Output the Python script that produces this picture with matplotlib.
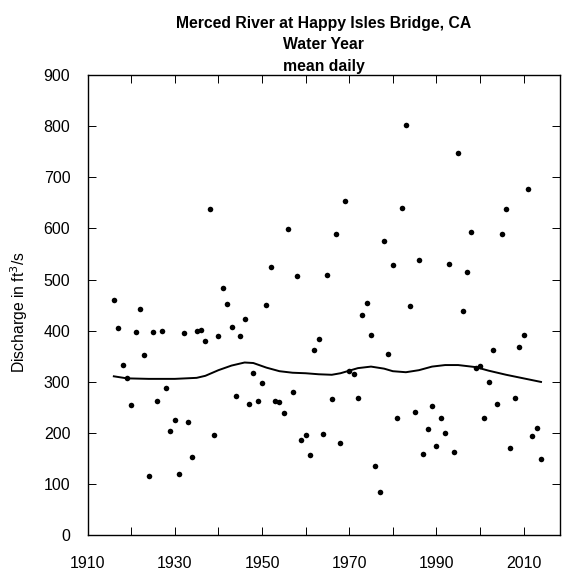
import numpy as np
import matplotlib
matplotlib.use("Agg")
import matplotlib.pyplot as plt

plt.rcParams['font.family'] = ['Liberation Sans', 'DejaVu Sans']

# water years and mean daily discharge (ft3/s)
years = list(range(1916, 2015))
discharge = [
    461, 405, 334, 308, 254, 397, 442, 352, 117, 398,
    263, 399, 289, 204, 225, 120, 395, 222, 154, 400,
    401, 380, 639, 197, 390, 484, 453, 408, 272, 390,
    424, 257, 317, 263, 298, 451, 525, 263, 261, 240,
    599, 280, 507, 186, 197, 157, 362, 384, 199, 510,
    267, 590, 180, 653, 321, 316, 269, 431, 454, 391,
    135, 84, 576, 354, 529, 229, 640, 802, 449, 242,
    539, 159, 208, 253, 174, 229, 200, 531, 163, 748,
    438, 514, 594, 328, 331, 229, 299, 363, 256, 589,
    638, 170, 268, 368, 392, 677, 195, 210, 150,
]

# smooth trend line
trend_years = [1916, 1919, 1924, 1930, 1935, 1937, 1940, 1943, 1946, 1948,
               1951, 1954, 1957, 1960, 1963, 1966, 1968, 1970, 1972, 1975,
               1978, 1980, 1983, 1986, 1989, 1992, 1995, 1997, 1999, 2002,
               2006, 2010, 2014]
trend_vals = [311, 307, 306, 306, 308, 312, 323, 332, 338, 337,
              328, 321, 318, 317, 315, 314, 317, 322, 327, 330,
              326, 321, 319, 323, 330, 333, 333, 331, 329, 322,
              314, 307, 300]

fig = plt.figure(figsize=(5.62, 5.71), dpi=100)
ax = fig.add_axes([0.156, 0.0623, 0.84, 0.8064])

ax.plot(years, discharge, 'o', color='black', ms=4, mew=0)
ax.plot(trend_years, trend_vals, color='black', lw=1.4)

ax.set_xlim(1910, 2018.3)
ax.set_ylim(0, 900)
ax.set_xticks(range(1910, 2011, 20))
ax.set_xticks(range(1910, 2019, 10), minor=True)
ax.set_yticks(range(0, 901, 100))

ax.tick_params(which='both', direction='in', top=True, right=True,
               length=5.5, width=0.7, labelsize=11.5)
ax.tick_params(axis='x', pad=15)
ax.tick_params(axis='y', pad=12.5)
for s in ax.spines.values():
    s.set_linewidth(1.0)

ax.set_ylabel('Discharge in ft$^3$/s', fontsize=11.3)
ax.yaxis.set_label_coords(-0.122, 0.486)

ax.set_title('Merced River at Happy Isles Bridge, CA\nWater Year\nmean daily',
             fontsize=11.3, fontweight='bold', linespacing=1.55, pad=3)

fig.savefig('out.png', dpi=100)
